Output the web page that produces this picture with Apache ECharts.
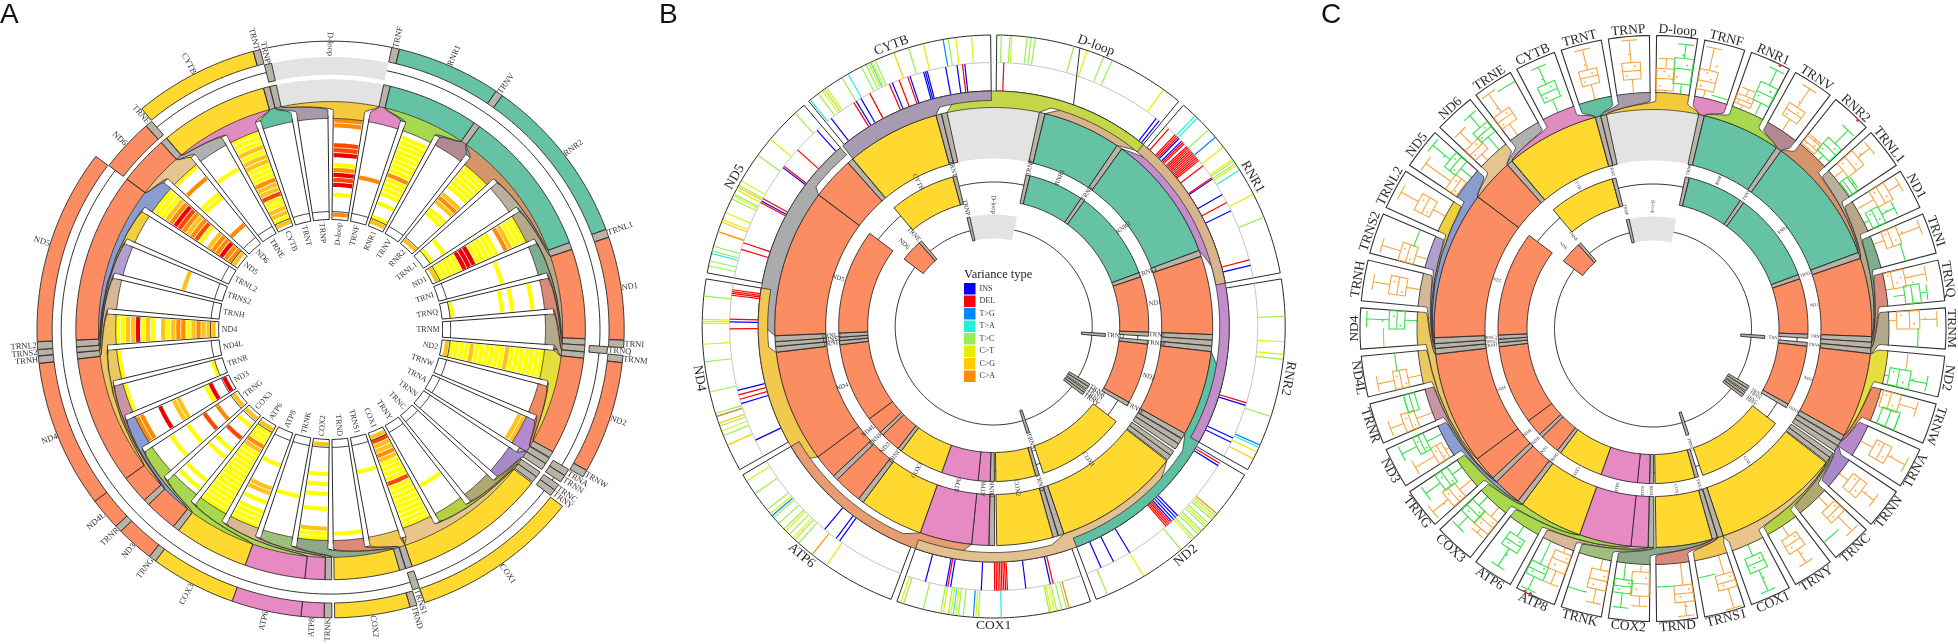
<!DOCTYPE html>
<html><head><meta charset="utf-8"><style>html,body{margin:0;padding:0;background:#fff}#c{width:1958px;height:644px}</style>
<script src="https://cdn.jsdelivr.net/npm/echarts@6/dist/echarts.min.js"></script></head><body><div id="c"></div>
<script>
// ---------- genes (degrees clockwise from the top of each circle)
const geneNames=['D-loop','TRNF','RNR1','TRNV','RNR2','TRNL1','ND1','TRNI','TRNQ','TRNM','ND2','TRNW','TRNA','TRNN','TRNC','TRNY','COX1','TRNS1','TRND','COX2','TRNK','ATP8','ATP6','COX3','TRNG','ND3','TRNR','ND4L','ND4','TRNH','TRNS2','TRNL2','ND5','ND6','TRNE','CYTB','TRNT','TRNP'];
const geneStart=[-12.3,12.04,13.58,34.31,35.81,69.69,71.36,92.13,93.6,95.16,96.63,119.27,120.9,122.43,124.7,126.1,127.8,161.3,162.9,164.3,179.75,181.3,185.8,199.6,216.6,218.1,225.6,227,233.45,263.26,264.76,266.03,267.6,306.96,318.36,319.95,344.75,346.2];
const geneEnd=[12.04,13.56,34.29,35.79,69.67,71.3,92.11,93.6,95.1,96.6,119.25,120.73,122.4,124,126.1,127.5,161.3,162.8,164.3,179.2,181.25,185.8,199.6,216.6,218.06,225.6,227,233.45,263.2,264.7,266,267.55,306.9,318.3,319.85,344.7,346.15,347.7];
const geneReverse=['D-loop','TRNQ','TRNA','TRNN','TRNC','TRNY','TRNS1','TRNE','ND6','TRNP'];
const ribbonColors=['#f4c93c','#e08cc0','#a8d84e','#b08a90','#d4956a','#b9b0a0','#b8a88a','#7fae8f','#d98a78','#b5a88c','#e6de3c','#f08a5f','#b689cc','#a98ac8','#b0a870','#b5d040','#e8c58a','#f3c851','#d98a78','#8fa88a','#9ec07a','#d8b896','#a8d84e','#a8d84e','#a9d64a','#8a9cd0','#c995a5','#ecc861','#ecc861','#d4b896','#b0a0d0','#efcf3a','#8a9cd0','#e6c48e','#b0b0b0','#e08cc0','#64bfa0','#a99aa8'];
// ---------- panel A : heat lanes per cell, inner lane first
const heatRows=["o...y.RrRoy.Rrr...oog","........o............","gy..y.yyyyoyyyyyyyy..",".....................","g......yy.gog.yyyyyyy",".y..y................","gyyyyyRRRyyyyy.ogyyyy","............y........",".y.........y.y...y...","....................y","gyyyygyyyyyygyyyyyyy.",".....................","..................gg.",".....................",".....................",".............y.......","grggogyyyyryyyyyyyyy.","......y..............","..................y..","g.....y.y.y..y...gyy.","...........y.........","......y....gg.y.yyyy.","gyyyogyyyyyyyyyyyyyy.","g.y..r..y.y.....y.y..","g...o..r...y...y.....","R..Ry.....gg..R...oo.",".y.................y.","...................y.","gggogyoogyg.ygyRggyy.",".....................",".......g.............",".....................","gooRoog.yrogorRogyyy.","....o......yy...o..y.","..............y......","gyggyyrggoyyyggygyyy.",".....................","....................."];
const heatColors={y:'#ffff00',g:'#ffc21a',o:'#ff8c00',r:'#ff4500',R:'#ee0000'};
// ---------- panel B : variant positions (degrees)
const bCellNames=['D-loop','RNR1','RNR2','ND2','COX1','ATP6','ND4','ND5','CYTB'];
const bBandColors=['#c5d648','#d8b48a','#c38ccb','#5fbfa2','#e2c08f','#e89c72','#f3c84e','#ababab','#a89ab0'];
const variantNames=['INS','DEL','T>G','T>A','T>C','C>T','C>G','C>A'];
const variantColors=['#0000ff','#ff0000','#0088ff','#22eedd','#99ee55','#e5ee00','#ffcc00','#ff8c00'];
const varINS=[38,38.8,44.6,45.4,56,60,64,76.6,107.4,115,116,121.8,135.8,136.4,137,137.6,149,153,156,167.6,173,182.7,189.4,190.4,195,215.7,216.6,219.8,244.5,253,256,271,298.4,307,318,322,328.6,329.8,337.4,341.5,344.6,345,345.4,349.5,352,353.7];
const varDEL=[2.2,41.5,43.4,43.8,44.2,45.8,46.2,47,47.4,47.8,48.2,48.6,49,49.4,49.8,50.2,50.6,51,52.5,55.7,62,75.4,106.8,121.2,138,138.4,138.8,139.2,167,177,177.4,177.8,178.2,178.6,179,179.4,179.8,190,254,255,269.5,271.6,276.8,277.2,277.6,278,287,288.5,298,299,307.4,312,328,332,336.7,339,341,353.2];
const varTG=[49.5,114,184,229.5,252,350];
const varTA=[43.7,44.3,57.5,114.5,178.5,188,284.5,321,330,335];
const varTC=[1.5,3.2,6.6,7.4,8.2,16,22.2,24,47.5,55.4,56,68,88,96.5,108,130.5,131.5,132.5,133.5,134.5,135.5,136.5,140,157,165.5,166.5,167.5,169,183,186,187,189,190.5,194,198,222,223,224.5,226,227.5,229,231,235,248,250,252.6,257,263,276,282,283,285,286,296,297,299,306,317,323,324.5,328.6,333,334,336,343,351];
const varCT=[3.6,18.7,35.6,52,55,56.4,63,93,95.5,115.5,131,133,135,137,149,168,168.6,183.5,187.5,188.5,190,198.6,215,223.5,225.5,230,238,249,266.5,270.6,271,271.4,289,291.5,293,296.6,298,300,310,324,325,334.6,335.4,346,352.5,355.6];
const varCG=[117,246,250.6,291,298.6,340];
const varCA=[130,165,218.5,252,289];
// ---------- panel C : box plots per cell [low,q1,median,q3,high,points...]
const orangeBoxes=[[0,4,25,43,61,12,30,38],[0,14,30,50,91,20,35,45,60],[0,8,16,25,38,12,20],[0,25,38,50,90,30,42,60],[0,3,10,20,24,8,14],[0,20,38,55,82,28,45,62],[2,35,50,65,88,42,58],[0,20,32,48,88,26,40,55],[0,0,14,37,75,8,22,30,50],[0,14,37,55,86,22,45,65],[36,36,36,36,36],[0,5,20,38,70,12,28],[0,25,40,55,90,32,48,62],[0,20,35,50,78,28,42,58],[0,25,38,50,85,32,44],[0,22,35,50,78,28,42,60],null,[0,35,50,62,98,42,55],[0,40,55,70,95,48,60,78],[0,14,35,57,75,25,45],[0,20,38,55,80,30,48],[0,10,25,45,70,18,35],null,[0,22,35,50,60,28,42],[0,28,42,55,90,35,48,65],[0,8,18,30,70,14,24],[0,30,42,55,80,36,48],[0,25,38,50,80,30,44],[60,60,60,60,60],[0,25,40,55,85,32,48],[0,22,36,50,85,30,44],[0,25,40,55,90,32,48],[0,2,12,25,80,8,18],[0,15,28,40,70,22,34],[0,25,38,50,90,30,44,60],null,[0,28,42,55,92,35,48,65],[0,25,40,55,95,32,48,70]];
const greenBoxes=[[0,18,45,64,89,30,52,70],[8,8,8,8,8],[0,25,42,60,90,35,50],null,[0,12,28,42,75,20,35],[0,2,8,18,22],[0,10,22,35,60,16,28,45],[45,45,45,45,45],[12,32,45,60,72],[52,52,52,52,52],[0,8,25,46,77,15,35,52],[12,12,28,45,45],null,null,[67,67,67,67,67],null,[0,22,36,50,90,30,42,65],[31,31,31,31,31],[40,40,40,40,40],[0,30,42,54,80,36,48],[64,64,64,64,64],[0,45,58,70,95,50,62],[0,22,35,48,85,28,40,60],[0,22,36,50,75,30,42],[0,22,35,48,80,28,40],[0,30,40,50,80,35,45],[20,20,30,40,40],[42,42,42,42,42],[0,22,36,50,90,30,42,62],null,[30,30,30,30,30],null,[0,25,38,50,90,32,44,62],[0,30,41,52,80,36,46],[84,84,84,84,84],[0,25,40,55,88,32,48,65],null,null];
const outlierPoints=[[2,0.72,100],[4,0.7,100],[21,0.62,100],[21,0.74,100]];

// ---------- styles and helpers
const centers=[[330.6,329.5],[993.7,326.5],[1653,328.5]];
const serif='"Liberation Serif","Times New Roman",serif', INK='#2a2a2a';
const kindColor=n=>n==='D-loop'?'#e3e3e3':/^TRN/.test(n)?'#b9b3a7':/^ND/.test(n)?'#fc8d62':/^(COX|CYTB)/.test(n)?'#ffd92f':/^ATP/.test(n)?'#e78ac3':'#66c2a5';
const cellWidth=360/geneNames.length;
const isRev=n=>geneReverse.includes(n);
let aspect=null; // panel A's reference circle is very slightly wider than tall
const pt=(api,r,a)=>{const c=api.coord([r,a]);if(aspect){return [centers[0][0]+(c[0]-centers[0][0])*aspect[0],centers[0][1]+(c[1]-centers[0][1])*aspect[1]];}return [c[0],c[1]];};
const arc=(api,r,a0,a1)=>{const n=Math.max(2,Math.ceil(Math.abs(a1-a0)/1.2)),o=[];for(let i=0;i<=n;i++)o.push(pt(api,r,a0+(a1-a0)*i/n));return o;};
const base=(p,rows,rend,name,extra)=>Object.assign({type:'custom',coordinateSystem:'polar',polarIndex:p,silent:true,animation:false,name,data:rows,renderItem:(q,api)=>{aspect=p===0?[1.0089,0.9909]:null;return rend(q,api);}},extra||{});
function sectors(p,rows,style){return base(p,rows,(q,api)=>({type:'polygon',shape:{points:arc(api,api.value(1),api.value(2),api.value(3)).concat(arc(api,api.value(0),api.value(3),api.value(2)))},style:style(q.dataIndex)}));}
function arcs(p,rows,style){return base(p,rows,(q,api)=>({type:'polyline',shape:{points:arc(api,api.value(0),api.value(1),api.value(2))},style:Object.assign({fill:null},style(q.dataIndex))}));}
// rows: [rCell,rGene,c0,c1,g0,g1]; straight from the cell, spreading to the gene near the ring
function fans(p,rows,style){return base(p,rows,(q,api)=>{const [rc,rg,c0,c1,g0,g1]=[0,1,2,3,4,5].map(k=>api.value(k));const ss=t=>{const u=Math.max(0,Math.min(1,(t-0.5)/0.5));return u*u*(3-2*u);};let pts=arc(api,rc,c0,c1);for(let i=1;i<14;i++){const t=i/14;pts.push(pt(api,rc+(rg-rc)*t,c1+(g1-c1)*ss(t)));}pts=pts.concat(arc(api,rg,g1,g0));for(let i=13;i>0;i--){const t=i/14;pts.push(pt(api,rc+(rg-rc)*t,c0+(g0-c0)*ss(t)));}return {type:'polygon',shape:{points:pts},style:style(q.dataIndex)};});}
function bands(p,rows,style){return base(p,rows,(q,api)=>{const [g0,g1,c0,c1]=[0,1,2,3].map(k=>api.value(k));const R0=219,R1=235.5,Ri=226;let pts=[];for(let i=0;i<=30;i++){const t=i/30;pts.push(pt(api,R0+(R1-R0)*Math.min(1,t/0.3),g0+(c0-g0)*t));}pts=pts.concat(arc(api,R1,c0,c1));for(let i=0;i<=30;i++){const t=i/30;pts.push(pt(api,Ri-(Ri-R0)*Math.max(0,(t-0.9)/0.1),c1+(g1-c1)*t));}pts=pts.concat(arc(api,R0,g1,g0));return {type:'polygon',shape:{points:pts},style:style(q.dataIndex)};});}
const mod=a=>((a%360)+360)%360;
const radRot=t=>(t<180?90-t:270-t)*Math.PI/180;
const tanRot=t=>(t<116?-t:t<270?180-t:-t)*Math.PI/180;
function labels(p,rows,names,size,rot,alignFn,color){return base(p,rows,(q,api)=>{const c=pt(api,api.value(0),api.value(1));const t=mod(api.value(1));return {type:'text',x:c[0],y:c[1],rotation:rot(t),style:{text:names[q.dataIndex],font:size+'px '+serif,fill:color||INK,align:alignFn?alignFn(t):'center',verticalAlign:'middle'}};});}
const mid=i=>(geneStart[i]+geneEnd[i])/2;
const cellA=i=>i*cellWidth;
const series=[];
function geneRing(p,names,r0,r1){const idx=geneNames.map((n,i)=>i).filter(i=>names(geneNames[i]));
  series.push(sectors(p,idx.map(i=>[r0,r1,geneStart[i],geneEnd[i]]),j=>{const n=geneNames[idx[j]];return n==='D-loop'?{fill:kindColor(n)}:{fill:kindColor(n),stroke:'#2a2a2a',lineWidth:0.9};}));return idx;}

// =========== Panel A ===========
series.push(arcs(0,[[267,0,360],[291,geneStart[0],geneEnd[0]]],()=>({stroke:'#333',lineWidth:1})));
geneRing(0,n=>!isRev(n),276,291);
geneRing(0,isRev,257,275);
geneRing(0,()=>true,222,252.5);
series.push(sectors(0,geneNames.map((n,i)=>[111,216,cellA(i)+0.7,cellA(i+1)-0.7]),()=>({fill:'#fff',stroke:'#2a2a2a',lineWidth:1})));
const heatRowsData=[],heatColorsList=[];
heatRows.forEach((s,i)=>[...s].forEach((ch,l)=>{if(ch!=='.'){heatRowsData.push([116+5*l-2.1,116+5*l+2.1,cellA(i)+1,cellA(i+1)-1]);heatColorsList.push(heatColors[ch]);}}));
series.push(sectors(0,heatRowsData,i=>({fill:heatColorsList[i]})));
series.push(arcs(0,geneNames.map((n,i)=>[119,cellA(i)+0.7,cellA(i+1)-0.7]),()=>({stroke:'#2a2a2a',lineWidth:0.9})));
series.push(fans(0,geneNames.map((n,i)=>[213,230,cellA(i)+0.7,cellA(i+1)-0.7,geneStart[i],geneEnd[i]]),i=>({fill:ribbonColors[i],stroke:'#222',lineWidth:0.7})));
series.push(labels(0,geneNames.map((n,i)=>[108,cellA(i)+cellWidth/2]),geneNames,8,radRot,t=>t<180?'right':'left','#333'));
series.push(labels(0,geneNames.map((n,i)=>[isRev(n)?276:291.5,mid(i)]),geneNames,8.5,radRot,t=>t<180?'left':'right','#333'));

// =========== Panels B and C rings ===========
[1,2].forEach(p=>{
  const small=p===1?6.5:4.5;
  series.push(arcs(p,[[144.5,0,360],[98.5,0,360]],()=>({stroke:'#333',lineWidth:1})));
  geneRing(p,()=>true,168,219);
  geneRing(p,n=>!isRev(n),126,155);
  geneRing(p,isRev,88,112);
  series.push(labels(p,geneNames.map((n,i)=>[isRev(n)?122:163,mid(i)]),geneNames,small,radRot,null,'#333'));
});

// =========== Panel B cells ===========
series.push(sectors(1,bCellNames.map((n,i)=>[235.5,291.5,i*40+0.6,(i+1)*40-0.6]),()=>({fill:'#fff',stroke:'#2a2a2a',lineWidth:1})));
series.push(arcs(1,bCellNames.map((n,i)=>[264,i*40+0.6,(i+1)*40-0.6]),()=>({stroke:'#c4c4c4',lineWidth:1})));
[varINS,varDEL,varTG,varTA,varTC,varCT,varCG,varCA].forEach((v,k)=>{
  const inner=k<2;
  series.push(base(1,v.map(a=>[inner?236:264.5,a]),(q,api)=>({type:'polyline',shape:{points:[pt(api,api.value(0),api.value(1)),pt(api,api.value(0)+(inner?28:26.5),api.value(1))]},style:{stroke:variantColors[k],lineWidth:1.2,fill:null}}),variantNames[k],{itemStyle:{color:variantColors[k]}}));
});
series.push(base(1,[[235.5,19.8]],(q,api)=>({type:'polyline',shape:{points:[pt(api,api.value(0),api.value(1)),pt(api,291,17.2)]},style:{stroke:'#333',lineWidth:1,fill:null}})));
const bOrder=[7,6,5,4,3,2,1,0,8];
const bGene=bCellNames.map(n=>geneNames.indexOf(n));
series.push(bands(1,bOrder.map(i=>[geneStart[bGene[i]],geneEnd[bGene[i]],i*40+0.6,(i+1)*40-0.6]),j=>({fill:bBandColors[bOrder[j]],stroke:'#222',lineWidth:0.7})));
series.push(labels(1,bCellNames.map((n,i)=>[299,i*40+20]),bCellNames,13.5,tanRot));

// =========== Panel C cells ===========
series.push(sectors(2,geneNames.map((n,i)=>[235.5,293,cellA(i)+0.7,cellA(i+1)-0.7]),()=>({fill:'#fff',stroke:'#333',lineWidth:1.1})));
const vr=v=>236+v*0.56;
function boxes(list,color,frac){
  const rows=[];list.forEach((b,i)=>{if(b)rows.push([i].concat(b));});
  return base(2,rows,(q,api)=>{
    const raw=rows[q.dataIndex],i=raw[0],b=raw.slice(1);
    const other=(list===orangeBoxes?greenBoxes:orangeBoxes)[i];
    const a=cellA(i)+cellWidth*(other?frac:0.5);
    const hw=2.0,ch=[];
    const L=(pts)=>ch.push({type:'polyline',shape:{points:pts},style:{stroke:color,lineWidth:1.1,fill:null}});
    const [lo,q1,md,q3,hi]=b.slice(0,5);
    if(lo===hi){L(arc(api,vr(md),a-hw,a+hw));return {type:'group',children:ch};}
    L([pt(api,vr(lo),a),pt(api,vr(q1),a)]);L([pt(api,vr(q3),a),pt(api,vr(hi),a)]);
    L(arc(api,vr(hi),a-hw*0.8,a+hw*0.8));
    ch.push({type:'polygon',shape:{points:arc(api,vr(q3),a-hw,a+hw).concat(arc(api,vr(q1),a+hw,a-hw))},style:{fill:'none',stroke:color,lineWidth:1.1}});
    L(arc(api,vr(md),a-hw,a+hw));
    const off=[-1.2,0.8,-0.3,1.3];
    b.slice(5).forEach((v,k)=>{const c=pt(api,vr(v),a+off[k%4]);ch.push({type:'circle',shape:{cx:c[0],cy:c[1],r:0.9},style:{fill:color}});});
    return {type:'group',children:ch};
  });
}
series.push(boxes(orangeBoxes,'#f5a742',0.3));
series.push(boxes(greenBoxes,'#35e24a',0.7));
series.push(base(2,outlierPoints.map(o=>[vr(o[2]),cellA(o[0])+o[1]*cellWidth]),(q,api)=>{const c=pt(api,api.value(0),api.value(1));return {type:'circle',shape:{cx:c[0],cy:c[1],r:1.5},style:{fill:'#f03030'}};}));
series.push(fans(2,geneNames.map((n,i)=>[236,219,cellA(i)+0.7,cellA(i+1)-0.7,geneStart[i],geneEnd[i]]),i=>({fill:ribbonColors[i],stroke:'#222',lineWidth:0.7})));
series.push(labels(2,geneNames.map((n,i)=>[299,cellA(i)+cellWidth/2]),geneNames,13.5,tanRot));

const hid={show:false};
const option={backgroundColor:'#fff',animation:false,
  polar:centers.map(c=>({center:c,radius:[0,300]})),
  radiusAxis:centers.map((c,i)=>({polarIndex:i,type:'value',min:0,max:300,axisLine:hid,axisTick:hid,axisLabel:hid,splitLine:hid})),
  angleAxis:centers.map((c,i)=>({polarIndex:i,type:'value',min:0,max:360,startAngle:90,clockwise:true,axisLine:hid,axisTick:hid,axisLabel:hid,splitLine:hid,splitArea:hid})),
  legend:{data:variantNames,orient:'vertical',left:964,top:283,itemWidth:11.5,itemHeight:11.5,itemGap:1,icon:'rect',selectedMode:false,padding:0,textStyle:{fontFamily:serif,fontSize:8,color:'#333',padding:[0,0,0,-1]}},
  graphic:[
    {type:'text',left:0,top:1,style:{text:'A',font:'28px "Liberation Sans"',fill:'#111'}},
    {type:'text',left:659,top:1,style:{text:'B',font:'28px "Liberation Sans"',fill:'#111'}},
    {type:'text',left:1321,top:1,style:{text:'C',font:'28px "Liberation Sans"',fill:'#111'}},
    {type:'text',left:964,top:268,style:{text:'Variance type',font:'12.5px '+serif,fill:'#222'}}
  ],
  series};
const chart=echarts.init(document.getElementById('c'),null,{renderer:'canvas'});
chart.setOption(option);
</script></body></html>
